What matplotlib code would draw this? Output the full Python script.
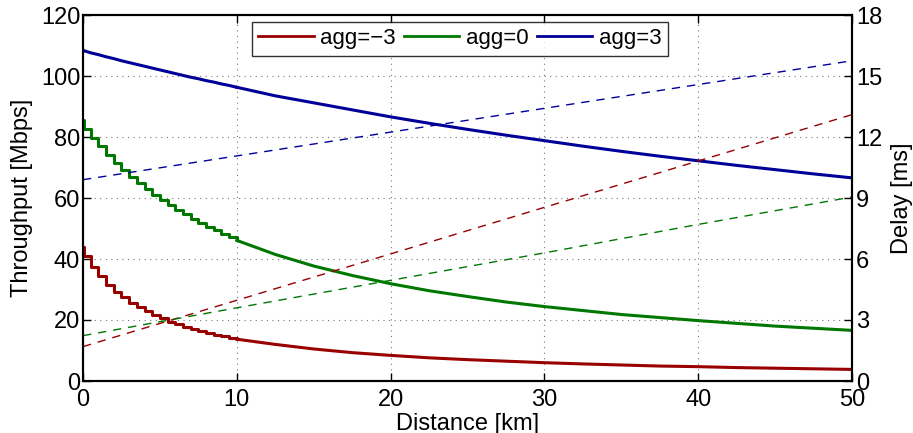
import matplotlib
matplotlib.use("Agg")
import matplotlib.pyplot as plt
from matplotlib.lines import Line2D

plt.rcParams['font.family'] = ['Liberation Sans', 'DejaVu Sans']

# ---- data ----
series_labels = ["agg=\u22123", "agg=0", "agg=3"]
colors = ["#990000", "#007700", "#000099"]

# throughput, staircase part (0..10 km, steps every 0.5 km)
x_near = [0, 0.05, 0.5, 1.0, 1.5, 2.0, 2.5, 3.0, 3.5, 4.0, 4.5, 5.0, 5.5, 6.0, 6.5,
          7.0, 7.5, 8.0, 8.5, 9.0, 9.5, 10.0]
thr_red_near = [44.0, 41.0, 37.5, 34.3, 31.6, 29.3, 27.4, 25.7, 24.1, 22.8, 21.6, 20.5,
                19.5, 18.6, 17.8, 17.1, 16.4, 15.8, 15.2, 14.6, 14.1, 13.7]
thr_green_near = [85.5, 82.5, 79.8, 76.9, 74.1, 71.6, 69.2, 66.9, 64.8, 62.9, 61.0, 59.3,
                  57.6, 56.1, 54.6, 53.2, 51.9, 50.6, 49.4, 48.3, 47.2, 46.1]
thr_blue_near = [108.6, 108.3, 107.6, 107.0, 106.3, 105.7, 105.0, 104.4, 103.8, 103.2,
                 102.6, 102.0, 101.4, 100.8, 100.2, 99.6, 99.1, 98.5, 98.0, 97.4, 96.9, 96.3]

# throughput, far part (10..50 km)
x_far = [10, 12.5, 15, 17.5, 20, 22.5, 25, 27.5, 30, 32.5, 35, 37.5, 40, 42.5, 45, 47.5, 50]
thr_red_far = [13.7, 12.0, 10.5, 9.3, 8.4, 7.6, 7.0, 6.5, 6.0, 5.6, 5.25, 4.9, 4.7, 4.4,
               4.2, 4.0, 3.8]
thr_green_far = [46.1, 41.5, 37.7, 34.6, 31.9, 29.6, 27.7, 25.9, 24.4, 23.1, 21.8, 20.8,
                 19.8, 18.9, 18.0, 17.3, 16.6]
thr_blue_far = [96.3, 93.5, 91.2, 88.9, 86.6, 84.5, 82.5, 80.6, 78.8, 77.0, 75.3, 73.7,
                72.2, 70.7, 69.3, 67.9, 66.6]

# delay (right axis)
x_delay = [0, 10, 20, 30, 40, 50]
delay_red = [1.69, 3.97, 6.25, 8.54, 10.82, 13.1]
delay_green = [2.23, 3.6, 4.95, 6.3, 7.7, 9.05]
delay_blue = [9.9, 11.07, 12.24, 13.41, 14.58, 15.75]

x_ticks = [0, 10, 20, 30, 40, 50]
thr_ticks = [0, 20, 40, 60, 80, 100, 120]
delay_ticks = [0, 3, 6, 9, 12, 15, 18]

# ---- figure ----
fig = plt.figure(figsize=(9.13, 4.33), dpi=100)
ax = fig.add_axes([83/913, 1 - 381/433, (852 - 83)/913, (381 - 15)/433])
ax2 = ax.twinx()

near = [thr_red_near, thr_green_near, thr_blue_near]
far = [thr_red_far, thr_green_far, thr_blue_far]
delays = [delay_red, delay_green, delay_blue]
stepped = [True, True, False]

for c, yn, yf, d, st in zip(colors, near, far, delays, stepped):
    ax.plot(x_near, yn, color=c, lw=2.2,
            drawstyle='steps-post' if st else 'default', zorder=3)
    ax.plot(x_far, yf, color=c, lw=2.2, zorder=3)
    ax2.plot(x_delay, d, color=c, lw=1.0, dashes=(6, 5))

ax.set_xlim(0, 50)
ax.set_ylim(0, 120)
ax2.set_ylim(0, 18)
ax.set_xticks(x_ticks)
ax.set_yticks(thr_ticks)
ax2.set_yticks(delay_ticks)

ax.grid(True, color='#777777', linestyle=(0, (1, 4)), linewidth=0.8)
ax.tick_params(direction='in', length=6, width=1, labelsize=17, top=True, pad=2)
ax.tick_params(axis='x', pad=6)
ax2.tick_params(direction='in', length=6, width=1, labelsize=17, pad=3)
for a in (ax, ax2):
    for s in a.spines.values():
        s.set_linewidth(1.5)

ax.set_ylabel("Throughput [Mbps]", fontsize=17, labelpad=6)
ax2.set_ylabel("Delay [ms]", fontsize=17, rotation=90, labelpad=6)
ax.set_xlabel("Distance [km]", fontsize=17, labelpad=1)

handles = [Line2D([], [], color=c, lw=2) for c in colors]
leg = ax.legend(handles, series_labels, loc='upper center', bbox_to_anchor=(0.49, 0.982),
                ncol=3, fontsize=16, frameon=True, fancybox=False, handlelength=2.5,
                handletextpad=0.3, columnspacing=0.35, borderpad=0.3, borderaxespad=0)
leg.get_frame().set_edgecolor('black')
leg.get_frame().set_linewidth(1.0)
leg.set_zorder(10)

fig.savefig("out.png", dpi=100)
